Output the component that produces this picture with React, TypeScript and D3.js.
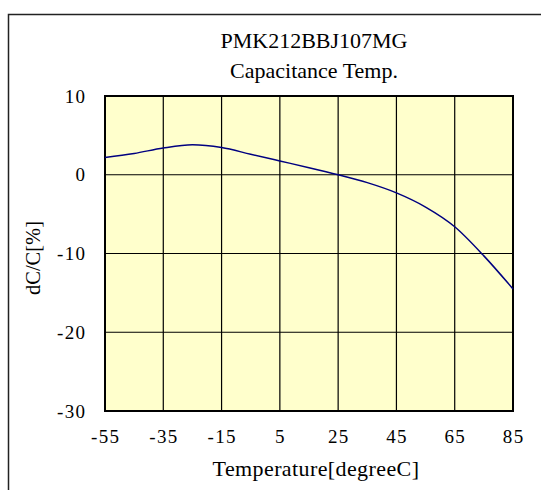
import * as d3 from "d3";
import { useEffect, useRef } from "react";

const temps = [-55, -45, -35, -25, -15, -5, 5, 15, 25, 35, 45, 55, 65, 75, 85];
const dcValues = [2.2, 2.7, 3.4, 3.8, 3.45, 2.6, 1.75, 0.9, 0.0, -1.0, -2.3, -4.1, -6.6, -10.3, -14.5];
const xTicks = [-55, -35, -15, 5, 25, 45, 65, 85];
const yTicks = [10, 0, -10, -20, -30];
const titleLines = ["PMK212BBJ107MG", "Capacitance Temp."];

function drawChart(svgNode: SVGSVGElement) {
    const svg = d3.select(svgNode);
    svg.selectAll("*").remove();

    const area = { left: 105, right: 513, top: 96, bottom: 411 };
    const font = "'Liberation Serif', 'Times New Roman', serif";
    const tickSpacing = 1.3;

    const scX = d3.scaleLinear().domain([-55, 85]).range([area.left, area.right]);
    const scY = d3.scaleLinear().domain([-30, 10]).range([area.bottom, area.top]);

    // outer frame, cut off at right and bottom
    svg.append("rect")
        .attr("x", 8.5)
        .attr("y", 14.5)
        .attr("width", 600)
        .attr("height", 600)
        .style("fill", "white")
        .style("stroke", "#222")
        .style("stroke-width", 1.5);

    svg.append("rect")
        .attr("x", area.left)
        .attr("y", area.top)
        .attr("width", area.right - area.left)
        .attr("height", area.bottom - area.top)
        .style("fill", "#FFFFCC");

    svg.append("g")
        .selectAll("line")
        .data(xTicks)
        .enter()
        .append("line")
        .attr("x1", d => scX(d))
        .attr("x2", d => scX(d))
        .attr("y1", area.top)
        .attr("y2", area.bottom)
        .style("stroke", "black")
        .style("stroke-width", 1.2);

    svg.append("g")
        .selectAll("line")
        .data(yTicks)
        .enter()
        .append("line")
        .attr("x1", area.left)
        .attr("x2", area.right)
        .attr("y1", d => scY(d))
        .attr("y2", d => scY(d))
        .style("stroke", "black")
        .style("stroke-width", 1.2);

    svg.append("rect")
        .attr("x", area.left)
        .attr("y", area.top)
        .attr("width", area.right - area.left)
        .attr("height", area.bottom - area.top)
        .style("fill", "none")
        .style("stroke", "black")
        .style("stroke-width", 2);

    const points = temps.map((t, i) => [t, dcValues[i]] as [number, number]);
    const line = d3.line<[number, number]>()
        .x(d => scX(d[0]))
        .y(d => scY(d[1]))
        .curve(d3.curveMonotoneX);

    svg.append("path")
        .datum(points)
        .attr("d", line)
        .style("fill", "none")
        .style("stroke", "#000080")
        .style("stroke-width", 1.5);

    // tick labels
    svg.append("g")
        .selectAll("text")
        .data(yTicks)
        .enter()
        .append("text")
        .attr("x", 85 + tickSpacing)
        .attr("y", d => scY(d) + 6.5)
        .attr("text-anchor", "end")
        .style("font-family", font)
        .style("font-size", "19px")
        .style("letter-spacing", tickSpacing + "px")
        .text(d => String(d));

    svg.append("g")
        .selectAll("text")
        .data(xTicks)
        .enter()
        .append("text")
        .attr("x", d => scX(d) + tickSpacing / 2)
        .attr("y", 443)
        .attr("text-anchor", "middle")
        .style("font-family", font)
        .style("font-size", "19px")
        .style("letter-spacing", tickSpacing + "px")
        .text(d => String(d));

    svg.append("g")
        .selectAll("text")
        .data(titleLines)
        .enter()
        .append("text")
        .attr("x", 314)
        .attr("y", (d, i) => 48 + i * 29.5)
        .attr("text-anchor", "middle")
        .style("font-family", font)
        .style("font-size", "22px")
        .text(d => d);

    svg.append("text")
        .attr("x", 316)
        .attr("y", 476)
        .attr("text-anchor", "middle")
        .style("font-family", font)
        .style("font-size", "22px")
        .style("letter-spacing", "0.4px")
        .text("Temperature[degreeC]");

    svg.append("text")
        .attr("transform", "translate(40, 258) rotate(-90)")
        .attr("text-anchor", "middle")
        .style("font-family", font)
        .style("font-size", "20.5px")
        .text("dC/C[%]");
}

export default function App() {
    const svgRef = useRef<SVGSVGElement>(null);

    useEffect(() => {
        if (svgRef.current) drawChart(svgRef.current);
    }, []);

    return (
        <div style={{ position: "absolute", left: 0, top: 0 }}>
            <svg ref={svgRef} width={541} height={490} style={{ display: "block", background: "white" }} />
        </div>
    );
}
